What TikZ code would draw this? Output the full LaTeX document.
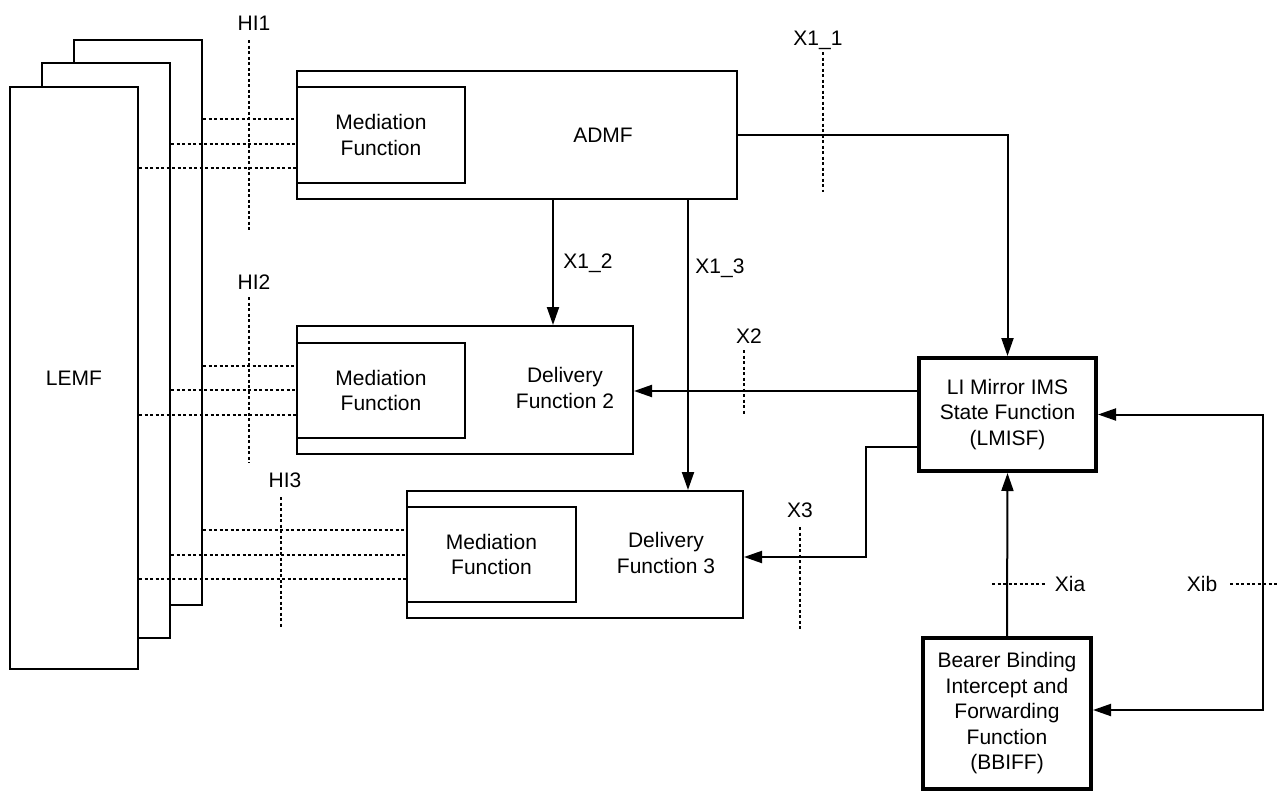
\documentclass[tikz,border=0pt]{standalone}
\usepackage{fontspec}
\setmainfont{Liberation Sans}
\usetikzlibrary{arrows.meta}

\tikzset{
  blk/.style={draw,line width=2pt,fill=white,inner sep=0pt},
  medbox/.style={draw,line width=1.5pt,fill=white,minimum width=168pt,minimum height=96pt,align=center},
  fnbox/.style={draw,line width=4pt,fill=white,align=center,inner sep=0pt},
  ifline/.style={line width=1.5pt,dash pattern=on 3pt off 2.5pt},
  arr/.style={line width=2pt,-{Triangle[length=18pt,width=12pt]}},
  arrboth/.style={line width=2pt,{Triangle[length=18pt,width=12pt]}-{Triangle[length=18pt,width=12pt]}},
}

\begin{document}
\begin{tikzpicture}[x=1pt,y=-1pt,font=\fontsize{21}{25.5}\selectfont]
  \useasboundingbox (0,0) rectangle (1277,790);
  % LEMF stack
  \node[blk,minimum width=128pt,minimum height=565pt] (lemfC) at (138,322.5) {};
  \node[blk,minimum width=128pt,minimum height=575pt] (lemfB) at (106,350.5) {};
  \node[blk,minimum width=128pt,minimum height=582pt] (lemfA) at (74,378) {LEMF};
  % ADMF
  \node[blk,minimum width=440pt,minimum height=128pt] (admf) at (517,135) {};
  \node (admftxt) at (603,135) {ADMF};
  \node[medbox] (med1) at (381,135) {Mediation\\Function};
  % delivery functions
  \node[blk,minimum width=336pt,minimum height=128pt] (del2) at (465,390) {};
  \node[align=center] (del2txt) at (565,388) {Delivery\\Function 2};
  \node[medbox,minimum height=95pt] (med2) at (381,390.5) {Mediation\\Function};
  \node[blk,minimum width=336pt,minimum height=127pt] (del3) at (575,554.5) {};
  \node[align=center] (del3txt) at (666,553) {Delivery\\Function 3};
  \node[medbox,minimum width=169pt,minimum height=95pt] (med3) at (491.5,554.5) {Mediation\\Function};
  % LMISF and BBIFF
  \node[fnbox,minimum width=177pt,minimum height=113pt] (lmisf) at (1007.5,414.5) {LI Mirror IMS\\State Function\\(LMISF)};
  \node[fnbox,minimum width=168pt,minimum height=151pt] (bbiff) at (1007,713.5) {Bearer Binding\\Intercept and\\Forwarding\\Function\\(BBIFF)};

  % handover lines
  \draw[ifline] (lemfC.east |- 0,119) -- (med1.west |- 0,119);
  \draw[ifline] (lemfB.east |- 0,144) -- (med1.west |- 0,144);
  \draw[ifline] (lemfA.east |- 0,168) -- (med1.west |- 0,168);
  \draw[ifline] (lemfC.east |- 0,366) -- (med2.west |- 0,366);
  \draw[ifline] (lemfB.east |- 0,390) -- (med2.west |- 0,390);
  \draw[ifline] (lemfA.east |- 0,415) -- (med2.west |- 0,415);
  \draw[ifline] (lemfC.east |- 0,530) -- (med3.west |- 0,530);
  \draw[ifline] (lemfB.east |- 0,555) -- (med3.west |- 0,555);
  \draw[ifline] (lemfA.east |- 0,579) -- (med3.west |- 0,579);

  % connectors
  \draw[arr] (admf.east) -| (lmisf.north);
  \draw[arr] (admf.south -| 553,0) -- (del2.north -| 553,0);
  \draw[arr] (admf.south -| 688,0) -- (del3.north -| 688,0);
  \draw[arr] (lmisf.west |- 0,391) -- (del2.east |- 0,391);
  \draw[arr] (lmisf.west |- 0,447) -| (866,557) -- (del3.east |- 0,557);
  \draw[arr] (bbiff.north) -- (lmisf.south);
  \draw[arrboth] (lmisf.east) -| (1263,710) -- (bbiff.east |- 0,710);

  % interface points
  \draw[ifline] (249,40) -- (249,231);
  \draw[ifline] (249,297) -- (249,463);
  \draw[ifline] (281,497) -- (281,628);
  \draw[ifline] (823,52) -- (823,192);
  \draw[ifline] (744,350) -- (744,415);
  \draw[ifline] (800,527) -- (800,630);
  \draw[ifline] (992,584) -- (1045,584);
  \draw[ifline] (1230,584) -- (1277,584);
  \node (hi1) at (254,23) {HI1};
  \node (hi2) at (254,282) {HI2};
  \node (hi3) at (285,480) {HI3};
  \node (x11) at (818,40) {X1\_1};
  \node (x12) at (588,263) {X1\_2};
  \node (x13) at (720,268) {X1\_3};
  \node (x2) at (749,336) {X2};
  \node (x3) at (800,510) {X3};
  \node (xia) at (1070,584) {Xia};
  \node (xib) at (1202,584) {Xib};
\end{tikzpicture}
\end{document}
